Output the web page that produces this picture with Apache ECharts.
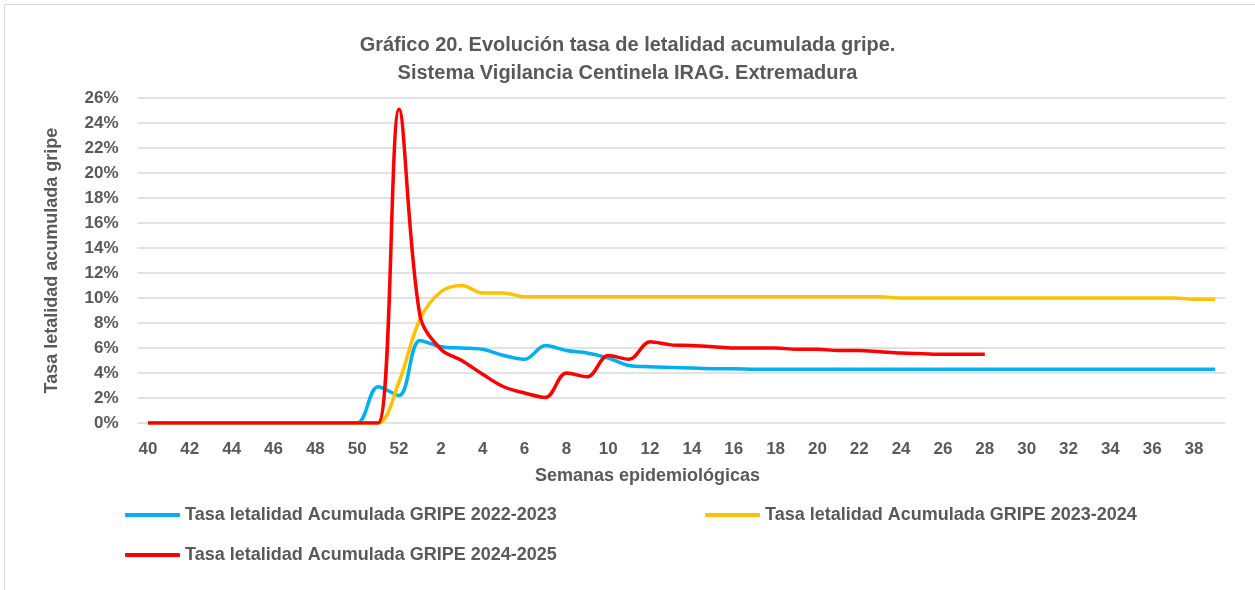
<!DOCTYPE html>
<html>
<head>
<meta charset="utf-8">
<script src="https://cdn.jsdelivr.net/npm/echarts@6/dist/echarts.min.js"></script>
<style>
    html, body { margin: 0; padding: 0; background: #fff; }
    #chart { width: 1255px; height: 590px; }
</style>
</head>
<body>
<div id="chart"></div>
<script>
// semanas epidemiológicas (40..52, 1..39)
var weeks = ['40', '41', '42', '43', '44', '45', '46', '47', '48', '49', '50', '51', '52',
    '1', '2', '3', '4', '5', '6', '7', '8', '9', '10', '11', '12', '13', '14', '15', '16',
    '17', '18', '19', '20', '21', '22', '23', '24', '25', '26', '27', '28', '29', '30',
    '31', '32', '33', '34', '35', '36', '37', '38', '39'];

// tasa de letalidad acumulada (%)
var gripe2223 = [0, 0, 0, 0, 0, 0, 0, 0, 0, 0, 0, 2.9, 2.2,
    6.6, 6.1, 6.0, 5.9, 5.4, 5.1, 6.2, 5.8, 5.6, 5.2, 4.6, 4.5, 4.45, 4.4, 4.35, 4.35,
    4.3, 4.3, 4.3, 4.3, 4.3, 4.3, 4.3, 4.3, 4.3, 4.3, 4.3, 4.3, 4.3, 4.3,
    4.3, 4.3, 4.3, 4.3, 4.3, 4.3, 4.3, 4.3, 4.3];
var gripe2324 = [0, 0, 0, 0, 0, 0, 0, 0, 0, 0, 0, 0, 3.3,
    8.3, 10.5, 11.0, 10.4, 10.4, 10.1, 10.1, 10.1, 10.1, 10.1, 10.1, 10.1, 10.1, 10.1, 10.1, 10.1,
    10.1, 10.1, 10.1, 10.1, 10.1, 10.1, 10.1, 10.0, 10.0, 10.0, 10.0, 10.0, 10.0, 10.0,
    10.0, 10.0, 10.0, 10.0, 10.0, 10.0, 10.0, 9.9, 9.9];
var gripe2425 = [0, 0, 0, 0, 0, 0, 0, 0, 0, 0, 0, 0, 25.1,
    8.6, 5.9, 5.0, 3.9, 2.9, 2.4, 2.05, 4.0, 3.7, 5.4, 5.1, 6.5, 6.25, 6.2, 6.1, 6.0,
    6.0, 6.0, 5.9, 5.9, 5.8, 5.8, 5.7, 5.6, 5.55, 5.5, 5.5, 5.5, null, null,
    null, null, null, null, null, null, null, null, null];

var names = ['Tasa letalidad Acumulada GRIPE 2022-2023',
    'Tasa letalidad Acumulada GRIPE 2023-2024',
    'Tasa letalidad Acumulada GRIPE 2024-2025'];
var colors = ['#00b0f0', '#ffc000', '#ff0000'];

var font = 'Liberation Sans';
var textColor = '#595959';

function legendAt(name, left, top) {
    return {
        data: [name],
        left: left,
        top: top,
        icon: 'roundRect',
        itemWidth: 55,
        itemHeight: 4,
        textStyle: {color: textColor, fontFamily: font, fontWeight: 'bold', fontSize: 18}
    };
}

function lineSeries(i, data) {
    return {
        name: names[i],
        type: 'line',
        data: data,
        smooth: 0.35,
        symbol: 'none',
        lineStyle: {color: colors[i], width: 3.5},
        itemStyle: {color: colors[i]}
    };
}

var mychart = echarts.init(document.getElementById('chart'));
var option = {
    animation: false,
    graphic: [{
        type: 'rect',
        shape: {x: 4.5, y: 4.5, width: 1300, height: 700},
        style: {fill: 'none', stroke: '#d9d9d9', lineWidth: 1}
    }],
    title: {
        left: 'center',
        top: 26,
        text: 'Gráfico 20. Evolución tasa de letalidad acumulada gripe.\nSistema Vigilancia Centinela IRAG. Extremadura',
        textStyle: {
            color: textColor,
            fontFamily: font,
            fontWeight: 'bold',
            fontSize: 20,
            lineHeight: 28
        }
    },
    legend: [
        legendAt(names[0], 120, 501),
        legendAt(names[1], 700, 501),
        legendAt(names[2], 120, 541)
    ],
    grid: {
        left: 137.5,
        right: 29.6,
        top: 98,
        bottom: 167,
        containLabel: false
    },
    xAxis: [{
        type: 'category',
        data: weeks,
        boundaryGap: true,
        name: 'Semanas epidemiológicas',
        nameLocation: 'middle',
        nameGap: 44,
        nameTextStyle: {
            color: textColor, fontFamily: font, fontWeight: 'bold', fontSize: 18,
            padding: [0, 68, 0, 0]
        },
        axisLine: {show: false},
        axisTick: {show: false},
        axisLabel: {
            interval: 1,
            margin: 18,
            color: textColor, fontFamily: font, fontWeight: 'bold', fontSize: 17
        }
    }],
    yAxis: [{
        type: 'value',
        min: 0,
        max: 26,
        interval: 2,
        name: 'Tasa letalidad acumulada gripe',
        nameLocation: 'middle',
        nameGap: 76,
        nameTextStyle: {color: textColor, fontFamily: font, fontWeight: 'bold', fontSize: 18},
        axisLine: {show: false},
        axisTick: {show: false},
        axisLabel: {
            formatter: '{value}%',
            margin: 19,
            color: textColor, fontFamily: font, fontWeight: 'bold', fontSize: 17
        },
        splitLine: {lineStyle: {color: '#d9d9d9', width: 1.5}}
    }],
    series: [
        lineSeries(0, gripe2223),
        lineSeries(1, gripe2324),
        lineSeries(2, gripe2425)
    ]
};
mychart.setOption(option);
</script>
</body>
</html>
